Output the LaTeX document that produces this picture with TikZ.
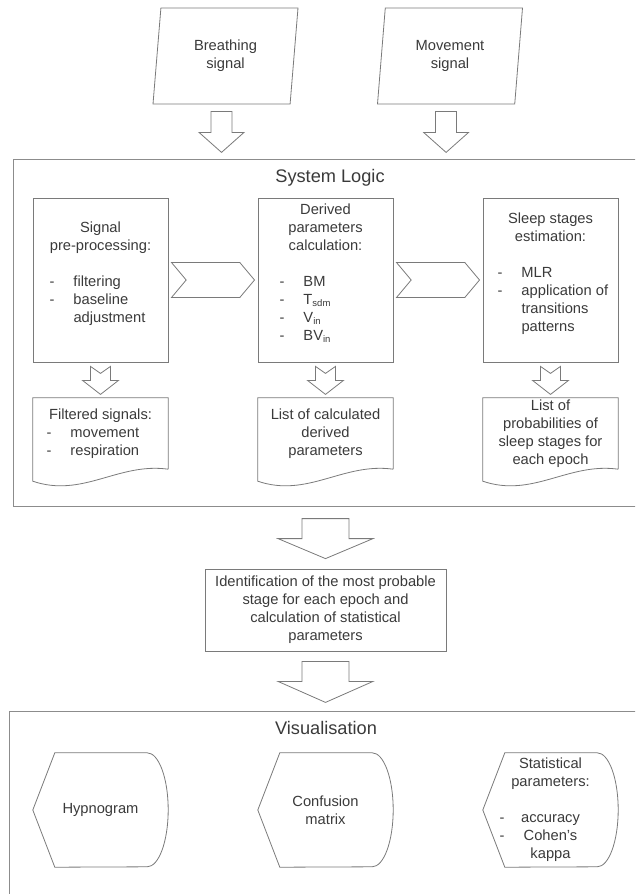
\documentclass[tikz,border=0pt]{standalone}
\usepackage{fontspec}
\setmainfont{Liberation Sans}
\usetikzlibrary{shapes.geometric,shapes.symbols,calc}

\definecolor{linegray}{HTML}{7A7A7A}
\definecolor{panelgray}{HTML}{8C8C8C}
\definecolor{textgray}{HTML}{3A3A3A}

% list lines inside the blocks
\newcommand{\dashitem}[2]{\makebox[#1][l]{\makebox[24pt][l]{-}#2}}
\newcommand{\contitem}[2]{\makebox[#1][l]{\hspace{24pt}#2}}
\newcommand{\dashmid}[2]{\makebox[#1]{\rlap{-}\hfill#2\hfill}}
\newcommand{\lowsub}[1]{\raisebox{-1.5pt}{\fontsize{9.5}{10}\selectfont #1}}

\begin{document}
\begin{tikzpicture}[
  x=1pt, y=-1pt,
  every node/.style={text=textgray, font=\fontsize{14.7}{18}\selectfont},
  heading/.style={font=\fontsize{18.2}{22}\selectfont},
  io/.style={trapezium, trapezium left angle=76, trapezium right angle=104, trapezium stretches body,
    draw=linegray, line width=0.8pt, minimum width=145pt, minimum height=96pt, align=center, inner sep=0pt},
  block/.style={rectangle, draw=linegray, line width=0.8pt, minimum width=135pt, minimum height=164pt, align=center, inner sep=0pt},
  docbox/.style={rectangle, minimum width=135pt, minimum height=71pt, align=center, inner sep=0pt},
  display/.style={rectangle, minimum width=135pt, minimum height=114pt, align=center, inner sep=0pt},
  chevron/.style={signal, signal from=west, signal to=east, signal pointer angle=100,
    draw=linegray, line width=0.8pt, minimum width=83pt, minimum height=35pt, inner sep=0pt},
  panel/.style={rectangle, draw=panelgray, line width=1.2pt, anchor=north west, inner sep=0pt},
  hollow/.style={draw=linegray, line width=0.8pt, fill=white, line join=miter},
  outline/.style={draw=linegray, line width=0.8pt}
]
\useasboundingbox (0,0) rectangle (635,894);
\clip (0,0) rectangle (635,894);

% Inputs
\node (breathing) at (225.5,56) [io] {Breathing\\signal};
\node (movement) at (450,56) [io] {Movement\\signal};

% System logic panel
\node (logic-panel) at (13,159) [panel, minimum width=650pt, minimum height=347pt] {};
\node (logic-title) at (330,178) [heading] {System Logic};

\draw[hollow] ($(breathing.bottom side)+(-10.5,7)$) -- ++(0,21) -- ++(-12,0) -- ++(22.5,20) -- ++(22.5,-20) -- ++(-12,0) -- ++(0,-21) -- cycle;
\draw[hollow] ($(movement.bottom side)+(-10.5,7)$) -- ++(0,21) -- ++(-12,0) -- ++(22.5,20) -- ++(22.5,-20) -- ++(-12,0) -- ++(0,-21) -- cycle;

% Processing steps
\node (pre-proc) at (100.5,280) [block] {Signal\\pre-processing:\\[18pt]\dashitem{102pt}{filtering}\\\dashitem{102pt}{baseline}\\\contitem{102pt}{adjustment}\\[-3pt]\mbox{}};
\node (derived) at (325.5,280) [block] {Derived\\parameters\\calculation:\\[18pt]\dashitem{92pt}{BM}\\\dashitem{92pt}{T\lowsub{sdm}}\\\dashitem{92pt}{V\lowsub{in}}\\\dashitem{92pt}{BV\lowsub{in}}\\[-3pt]\mbox{}};
\node (estimation) at (550.5,280) [block] {Sleep stages\\estimation:\\[18pt]\dashitem{106pt}{MLR}\\\dashitem{106pt}{application of}\\\contitem{106pt}{transitions}\\\contitem{106pt}{patterns}\\[-3pt]\mbox{}};

\node (step-a) at ($(pre-proc.east)!.5!(derived.west)$) [chevron] {};
\node (step-b) at ($(derived.east)!.5!(estimation.west)$) [chevron] {};

% Outputs of the steps
\node (filtered) at (100.5,433.5) [docbox] {Filtered signals:\\\dashitem{108pt}{movement}\\\dashitem{108pt}{respiration}};
\node (param-list) at (325.5,433.5) [docbox] {List of calculated\\derived\\parameters};
\node (prob-list) at (550.5,433.5) [docbox] {List of\\probabilities of\\sleep stages for\\each epoch};

\draw[outline] (filtered.south east) -- (filtered.north east) -- (filtered.north west) -- ($(filtered.south west)+(0,12)$) .. controls +(50,17) and +(-50,-7) .. (filtered.south east);
\draw[outline] (param-list.south east) -- (param-list.north east) -- (param-list.north west) -- ($(param-list.south west)+(0,12)$) .. controls +(50,17) and +(-50,-7) .. (param-list.south east);
\draw[outline] (prob-list.south east) -- (prob-list.north east) -- (prob-list.north west) -- ($(prob-list.south west)+(0,12)$) .. controls +(50,17) and +(-50,-7) .. (prob-list.south east);

\draw[hollow] ($(pre-proc.south)+(-10,4)$) -- ++(10,7) -- ++(10,-7) -- ++(0,14) -- ++(8,0) -- ++(-18,14) -- ++(-18,-14) -- ++(8,0) -- cycle;
\draw[hollow] ($(derived.south)+(-10,4)$) -- ++(10,7) -- ++(10,-7) -- ++(0,14) -- ++(8,0) -- ++(-18,14) -- ++(-18,-14) -- ++(8,0) -- cycle;
\draw[hollow] ($(estimation.south)+(-10,4)$) -- ++(10,7) -- ++(10,-7) -- ++(0,14) -- ++(8,0) -- ++(-18,14) -- ++(-18,-14) -- ++(8,0) -- cycle;

% Decision
\node (ident) at (325.5,610) [rectangle, draw=linegray, line width=0.8pt, minimum width=241pt, minimum height=82pt, align=center, inner sep=0pt] {Identification of the most probable\\stage for each epoch and\\calculation of statistical\\parameters};

\draw[hollow] ($(ident.north)+(-23.5,-50)$) -- ++(0,20) -- ++(-24,0) -- ++(47.5,20) -- ++(47.5,-20) -- ++(-24,0) -- ++(0,-20) -- cycle;
\draw[hollow] ($(ident.south)+(-23.5,10)$) -- ++(0,20) -- ++(-24,0) -- ++(47.5,21) -- ++(47.5,-21) -- ++(-24,0) -- ++(0,-20) -- cycle;

% Visualisation panel
\node (vis-panel) at (9,711) [panel, minimum width=650pt, minimum height=200pt] {};
\node (vis-title) at (326,728) [heading] {Visualisation};

\node (hypno) at (100.5,810) [display] {Hypnogram};
\node (confusion) at (325.5,810) [display] {Confusion\\matrix};
\node (stats) at (550.5,810) [display] {Statistical\\parameters:\\[18pt]\dashmid{102pt}{accuracy}\\\dashmid{102pt}{Cohen’s}\\kappa};

\draw[outline] (hypno.west) -- ($(hypno.north west)+(22,0)$) -- ($(hypno.north east)+(-21,0)$) arc[start angle=-90, end angle=90, x radius=21, y radius=57] -- ($(hypno.south west)+(22,0)$) -- cycle;
\draw[outline] (confusion.west) -- ($(confusion.north west)+(22,0)$) -- ($(confusion.north east)+(-21,0)$) arc[start angle=-90, end angle=90, x radius=21, y radius=57] -- ($(confusion.south west)+(22,0)$) -- cycle;
\draw[outline] (stats.west) -- ($(stats.north west)+(22,0)$) -- ($(stats.north east)+(-21,0)$) arc[start angle=-90, end angle=90, x radius=21, y radius=57] -- ($(stats.south west)+(22,0)$) -- cycle;

\end{tikzpicture}
\end{document}
